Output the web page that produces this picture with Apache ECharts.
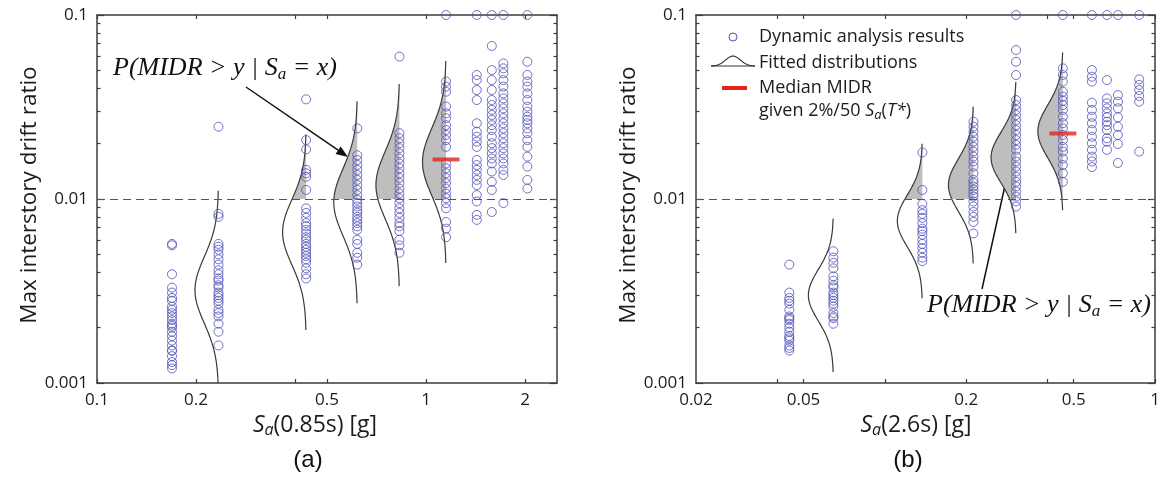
<!DOCTYPE html>
<html><head><meta charset="utf-8">
<script src="https://cdn.jsdelivr.net/npm/echarts@6/dist/echarts.min.js"></script>
<style>html,body{margin:0;padding:0;background:#fff}#c{width:1158px;height:478px}</style>
</head><body><div id="c"></div>
<script>
// ---------- Panel (a): Sa(0.85s) ----------
const saA = [0.169, 0.234, 0.432, 0.618, 0.83, 1.15, 1.426, 1.584, 1.718, 2.032];
const midrA1 = [0.0057, 0.0056, 0.0039, 0.0033, 0.0031, 0.0029, 0.0028, 0.0026, 0.0025, 0.0024, 0.0023, 0.0022, 0.0021, 0.00205, 0.0020, 0.0019, 0.0018, 0.0017, 0.0016, 0.0015, 0.0015, 0.0014, 0.0013, 0.00125, 0.0012];
const midrA2 = [0.0247, 0.0083, 0.0080, 0.0057, 0.0055, 0.0053, 0.0050, 0.0047, 0.0044, 0.0041, 0.0039, 0.0037, 0.0036, 0.0034, 0.0033, 0.0031, 0.0030, 0.0029, 0.0028, 0.0027, 0.0025, 0.0024, 0.0023, 0.0021, 0.0019, 0.0016];
const midrA3 = [0.0348, 0.0209, 0.0186, 0.0144, 0.0138, 0.0132, 0.0112, 0.0089, 0.0084, 0.0079, 0.0074, 0.0071, 0.0068, 0.0065, 0.0062, 0.0060, 0.0057, 0.0055, 0.0053, 0.0051, 0.0049, 0.0047, 0.0045, 0.0042, 0.0039, 0.0037];
const midrA4 = [0.0242, 0.0173, 0.0163, 0.0153, 0.0144, 0.0135, 0.0127, 0.0119, 0.0112, 0.0105, 0.0099, 0.0095, 0.0091, 0.0087, 0.0084, 0.0080, 0.0077, 0.0074, 0.0071, 0.0068, 0.0060, 0.0057, 0.0051, 0.0048, 0.0044];
const midrA5 = [0.0594, 0.0228, 0.0214, 0.0201, 0.0189, 0.0177, 0.0166, 0.0156, 0.0147, 0.0138, 0.0130, 0.0122, 0.0114, 0.0107, 0.0101, 0.0095, 0.0089, 0.0084, 0.0079, 0.0074, 0.0071, 0.0067, 0.0060, 0.0056, 0.0051];
const midrA6 = [0.1, 0.0435, 0.0408, 0.0383, 0.0318, 0.0292, 0.0275, 0.0252, 0.0237, 0.0223, 0.0209, 0.0192, 0.0156, 0.0147, 0.0138, 0.0130, 0.0122, 0.0114, 0.0107, 0.0101, 0.0095, 0.0089, 0.0075, 0.0069, 0.0062];
const midrA7 = [0.1, 0.0472, 0.0443, 0.0391, 0.0345, 0.0258, 0.0232, 0.0218, 0.0205, 0.0192, 0.0163, 0.0153, 0.0144, 0.0135, 0.0127, 0.0119, 0.0105, 0.0097, 0.0082, 0.0077];
const midrA8 = [0.1, 0.0679, 0.0502, 0.0443, 0.0391, 0.0345, 0.0324, 0.0305, 0.0286, 0.0269, 0.0252, 0.0237, 0.0218, 0.0201, 0.0189, 0.0177, 0.0166, 0.0156, 0.0141, 0.0124, 0.0112, 0.0085];
const midrA9 = [0.1, 0.0546, 0.0513, 0.0482, 0.0443, 0.0408, 0.0375, 0.0352, 0.0331, 0.0311, 0.0292, 0.0275, 0.0258, 0.0242, 0.0228, 0.0214, 0.0201, 0.0189, 0.0177, 0.0166, 0.0156, 0.0144, 0.0135, 0.0095];
const midrA10 = [0.1, 0.0557, 0.0472, 0.0435, 0.0408, 0.0375, 0.0345, 0.0318, 0.0298, 0.0280, 0.0269, 0.0258, 0.0242, 0.0228, 0.0209, 0.0192, 0.0170, 0.0150, 0.0127, 0.0114];
const midrA = [midrA1, midrA2, midrA3, midrA4, midrA5, midrA6, midrA7, midrA8, midrA9, midrA10];
// fitted lognormal distributions (median, log10 dispersion)
const fitSaA = [0.234, 0.432, 0.618, 0.83, 1.15];
const fitMedA = [0.0032, 0.0066, 0.0096, 0.0119, 0.0159];
const fitBetaA = [0.18, 0.177, 0.183, 0.183, 0.183];
const medSaA = [1.15];
const medMidrA = [0.0164];
const xTicksA = [0.1, 0.2, 0.4, 0.5, 1, 2];
const xLabelsA = [0.1, 0.2, 0.5, 1, 2];

// ---------- Panel (b): Sa(2.6s) ----------
const saB = [0.0443, 0.0645, 0.1377, 0.2128, 0.306, 0.456, 0.584, 0.664, 0.729, 0.874];
const midrB1 = [0.0044, 0.0031, 0.0029, 0.0028, 0.0027, 0.0025, 0.0023, 0.00225, 0.0022, 0.0021, 0.0020, 0.0019, 0.0018, 0.00175, 0.0017, 0.0016, 0.00155, 0.0015];
const midrB2 = [0.0052, 0.0048, 0.0045, 0.0042, 0.0038, 0.0036, 0.0034, 0.0033, 0.0031, 0.0030, 0.0029, 0.0028, 0.0027, 0.0026, 0.0024, 0.0023, 0.00225, 0.0021];
const midrB3 = [0.0179, 0.0112, 0.0094, 0.0087, 0.0083, 0.0079, 0.0074, 0.0069, 0.0067, 0.0064, 0.0060, 0.0057, 0.0054, 0.0051, 0.0048, 0.0046];
const midrB4 = [0.0263, 0.0247, 0.0232, 0.0218, 0.0205, 0.0192, 0.0181, 0.0170, 0.0160, 0.0150, 0.0138, 0.0127, 0.0122, 0.0117, 0.0112, 0.0107, 0.0103, 0.0097, 0.0091, 0.0085, 0.0080, 0.0075, 0.0065];
const midrB5 = [0.1, 0.0645, 0.0557, 0.0472, 0.0345, 0.0324, 0.0305, 0.0286, 0.0269, 0.0252, 0.0237, 0.0223, 0.0209, 0.0197, 0.0185, 0.0170, 0.0160, 0.0150, 0.0141, 0.0132, 0.0124, 0.0117, 0.0110, 0.0103, 0.0097, 0.0091];
const midrB6 = [0.1, 0.0513, 0.0472, 0.0435, 0.0383, 0.0360, 0.0342, 0.0324, 0.0305, 0.0280, 0.0258, 0.0242, 0.0223, 0.0209, 0.0192, 0.0181, 0.0166, 0.0153, 0.0138, 0.0124];
const midrB7 = [0.1, 0.0502, 0.0462, 0.0435, 0.0334, 0.0305, 0.0280, 0.0258, 0.0237, 0.0218, 0.0201, 0.0185, 0.0170, 0.0160, 0.0149];
const midrB8 = [0.1, 0.0443, 0.0352, 0.0331, 0.0311, 0.0292, 0.0278, 0.0263, 0.0252, 0.0237, 0.0214, 0.0205, 0.0185];
const midrB9 = [0.1, 0.0367, 0.0338, 0.0311, 0.0278, 0.0247, 0.0223, 0.0199, 0.0157];
const midrB10 = [0.1, 0.0447, 0.0417, 0.0391, 0.0363, 0.0338, 0.0181];
const midrB = [midrB1, midrB2, midrB3, midrB4, midrB5, midrB6, midrB7, midrB8, midrB9, midrB10];
const fitSaB = [0.0645, 0.1377, 0.2128, 0.306, 0.456];
const fitMedB = [0.0030, 0.0076, 0.0119, 0.0168, 0.0233];
const fitBetaB = [0.139, 0.14, 0.142, 0.137, 0.143];
const medSaB = [0.456];
const medMidrB = [0.0227];
const xTicksB = [0.04, 0.05, 0.1, 0.2, 0.4, 0.5, 1];
const xLabelsB = [0.02, 0.05, 0.2, 0.5, 1];

// ---------- shared ----------
const yRange = [0.001, 0.1];
const yMajor = [0.001, 0.01, 0.1];
const yMinor = [0.002, 0.003, 0.004, 0.005, 0.006, 0.007, 0.008, 0.009, 0.02, 0.03, 0.04, 0.05, 0.06, 0.07, 0.08, 0.09];
const threshold = 0.01;

const AX = '#3c3c3c', TXT = '#1e1b1c', CIRC = '#5050b8', RED = '#e3241b';
const SANS = '"Open Sans", "Noto Sans", sans-serif';
const SERIF = '"Liberation Serif", "DejaVu Serif", serif';
const fmt = v => String(parseFloat(Number(v).toPrecision(4)));

function xAxes(gi, min, max, ticks, labels, nameRich, padR) {
  const line = {show: true, onZero: false, lineStyle: {color: AX, width: 1.5}};
  return [{
    gridIndex: gi, type: 'log', logBase: 10, min, max, position: 'bottom',
    axisLine: line,
    axisTick: {show: true, inside: true, length: 4, customValues: ticks, lineStyle: {color: AX, width: 1.2}},
    axisLabel: {show: true, customValues: labels, formatter: fmt, margin: 9, fontSize: 17, color: TXT, fontFamily: SANS},
    splitLine: {show: false}, minorTick: {show: false},
    name: nameRich, nameLocation: 'middle', nameGap: 26,
    nameTextStyle: {padding: [0, padR, 0, 0], rich: {
      i: {fontFamily: SANS, fontSize: 23, fontStyle: 'italic', color: TXT, lineHeight: 27},
      s: {fontFamily: SANS, fontSize: 16, fontStyle: 'italic', color: TXT, lineHeight: 12, verticalAlign: 'bottom'},
      n: {fontFamily: SANS, fontSize: 23, color: TXT, lineHeight: 27}}}
  }, {
    gridIndex: gi, type: 'log', logBase: 10, min, max, position: 'top',
    axisLine: line,
    axisTick: {show: true, inside: true, length: 4, customValues: ticks, lineStyle: {color: AX, width: 1.2}},
    axisLabel: {show: false}, splitLine: {show: false}
  }];
}
function yAxes(gi) {
  const base = {gridIndex: gi, type: 'log', logBase: 10, min: yRange[0], max: yRange[1], splitLine: {show: false}};
  const tickStyle = {color: AX, width: 1.2};
  return [
    Object.assign({}, base, {position: 'left',
      axisLine: {show: true, onZero: false, lineStyle: {color: AX, width: 1.5}},
      axisTick: {show: true, inside: true, length: 7, customValues: yMajor, lineStyle: tickStyle},
      axisLabel: {show: true, customValues: yMajor, formatter: fmt, margin: 9, fontSize: 17, color: TXT, fontFamily: SANS},
      name: 'Max interstory drift ratio', nameLocation: 'middle', nameGap: 43, nameRotate: 90,
      nameTextStyle: {fontFamily: SANS, fontSize: 22.5, color: TXT, padding: [0, 0, 0, 8]}}),
    Object.assign({}, base, {position: 'left', axisLine: {show: false},
      axisTick: {show: true, inside: true, length: 3.5, customValues: yMinor, lineStyle: tickStyle}, axisLabel: {show: false}}),
    Object.assign({}, base, {position: 'right',
      axisLine: {show: true, onZero: false, lineStyle: {color: AX, width: 1.5}},
      axisTick: {show: true, inside: true, length: 7, customValues: yMajor, lineStyle: tickStyle}, axisLabel: {show: false}}),
    Object.assign({}, base, {position: 'right', axisLine: {show: false},
      axisTick: {show: true, inside: true, length: 3.5, customValues: yMinor, lineStyle: tickStyle}, axisLabel: {show: false}})
  ];
}

function fitRender(amp) {
  return function (params, api) {
    const sa = api.value(0), med = api.value(1), beta = api.value(2);
    const lm = Math.log10(med), Z = 3, N = 120;
    const lo = Math.max(-Z, (Math.log10(yRange[0]) - lm) / beta);
    const hi = Math.min(Z, (Math.log10(yRange[1]) - lm) / beta);
    const pt = t => { const c = api.coord([sa, Math.pow(10, lm + t * beta)]); return [c[0] - amp * Math.exp(-t * t / 2), c[1]]; };
    const curve = [];
    for (let k = 0; k <= N; k++) curve.push(pt(lo + (hi - lo) * k / N));
    const children = [];
    const t0 = (Math.log10(threshold) - lm) / beta;
    if (t0 < hi) {
      const s = Math.max(t0, lo);
      const poly = [api.coord([sa, Math.pow(10, lm + s * beta)])];
      for (let k = 0; k <= N; k++) poly.push(pt(s + (hi - s) * k / N));
      poly.push(api.coord([sa, Math.pow(10, lm + hi * beta)]));
      children.push({type: 'polygon', shape: {points: poly}, style: {fill: '#bebebe', stroke: null}});
    }
    children.push({type: 'polyline', shape: {points: curve}, style: {stroke: '#3a3a3a', lineWidth: 1.2, fill: null}});
    return {type: 'group', children};
  };
}

function seriesFor(xi, yi, sa, midr, fitSa, fitMed, fitBeta, medSa, medMidr, amp) {
  const pts = [];
  sa.forEach((s, i) => midr[i].forEach(v => pts.push([s, v])));
  return [{
    type: 'custom', xAxisIndex: xi, yAxisIndex: yi, z: 1,
    renderItem: fitRender(amp), encode: {x: 0, y: 1},
    data: fitSa.map((s, i) => [s, fitMed[i], fitBeta[i]])
  }, {
    name: 'Dynamic analysis results', type: 'scatter', xAxisIndex: xi, yAxisIndex: yi, z: 3, clip: false,
    symbol: 'circle', symbolSize: 9,
    itemStyle: {color: 'rgba(0,0,0,0)', borderColor: CIRC, borderWidth: 1},
    data: pts,
    markLine: {silent: true, symbol: ['none', 'none'], label: {show: false},
      lineStyle: {type: [8, 5], color: '#555', width: 1}, data: [{yAxis: threshold}]}
  }, {
    name: 'Median MIDR', type: 'scatter', xAxisIndex: xi, yAxisIndex: yi, z: 4,
    symbol: 'rect', symbolSize: [27, 4], itemStyle: {color: RED},
    data: medSa.map((s, i) => [s, medMidr[i]])
  }];
}

function arrow(x0, y0, x1, y1) {
  const L = 12, W = 4.5, a = Math.atan2(y1 - y0, x1 - x0);
  const bx = x1 - L * Math.cos(a), by = y1 - L * Math.sin(a), nx = -Math.sin(a), ny = Math.cos(a);
  return [
    {type: 'line', shape: {x1: x0, y1: y0, x2: bx, y2: by}, style: {stroke: '#111', lineWidth: 1.5}},
    {type: 'polygon', shape: {points: [[x1, y1], [bx + nx * W, by + ny * W], [bx - nx * W, by - ny * W]]}, style: {fill: '#111'}}
  ];
}
const pRich = {
  i: {fontFamily: SERIF, fontStyle: 'italic', fontSize: 26, lineHeight: 30, fill: '#111'},
  s: {fontFamily: SERIF, fontStyle: 'italic', fontSize: 17, lineHeight: 13, verticalAlign: 'bottom', fill: '#111'}
};
const pText = '{i|P(MIDR > y | S}{s|a}{i| = x)}';
function bell() {
  const p = [];
  for (let k = 0; k <= 40; k++) { const t = -3 + 6 * k / 40; p.push([733 + t * 7.3, 66 - 10 * Math.exp(-t * t / 2)]); }
  return p;
}
const LEGF = '18px ' + SANS;

const chart = echarts.init(document.getElementById('c'), null, {renderer: 'canvas'});
chart.setOption({
  backgroundColor: '#fff', animation: false,
  grid: [
    {left: 97, top: 15, width: 460, height: 368, outerBoundsMode: 'none'},
    {left: 696, top: 15, width: 459, height: 368, outerBoundsMode: 'none'}
  ],
  xAxis: [].concat(
    xAxes(0, 0.1, 2.5, xTicksA, xLabelsA, '{i|S}{s|a}{n|(0.85s) [g]}', 24),
    xAxes(1, 0.02, 1, xTicksB, xLabelsB, '{i|S}{s|a}{n|(2.6s) [g]}', 19)),
  yAxis: [].concat(yAxes(0), yAxes(1)),
  series: [].concat(
    seriesFor(0, 0, saA, midrA, fitSaA, fitMedA, fitBetaA, medSaA, medMidrA, 23.5),
    seriesFor(2, 4, saB, midrB, fitSaB, fitMedB, fitBetaB, medSaB, medMidrB, 25)),
  graphic: [].concat(
    [{type: 'text', x: 113, y: 68, style: {text: pText, rich: pRich, verticalAlign: 'middle', align: 'left'}}],
    arrow(246, 87, 348, 157),
    [{type: 'text', x: 927, y: 305, style: {text: pText, rich: pRich, verticalAlign: 'middle', align: 'left'}}],
    arrow(982, 289, 1008, 172),
    [
      {type: 'circle', shape: {cx: 733, cy: 37, r: 4}, style: {stroke: CIRC, fill: null, lineWidth: 1}},
      {type: 'text', x: 759, y: 37, style: {text: 'Dynamic analysis results', font: LEGF, fill: TXT, verticalAlign: 'middle'}},
      {type: 'polyline', shape: {points: bell()}, style: {stroke: '#333', lineWidth: 1.1, fill: null}},
      {type: 'line', shape: {x1: 711, y1: 66, x2: 755, y2: 66}, style: {stroke: '#333', lineWidth: 1.1}},
      {type: 'text', x: 759, y: 63, style: {text: 'Fitted distributions', font: LEGF, fill: TXT, verticalAlign: 'middle'}},
      {type: 'rect', shape: {x: 722, y: 86, width: 25, height: 4}, style: {fill: RED}},
      {type: 'text', x: 759, y: 88, style: {text: 'Median MIDR', font: LEGF, fill: TXT, verticalAlign: 'middle'}},
      {type: 'text', x: 759, y: 111, style: {
        text: '{n|given 2%/50 }{i|S}{s|a}{n|(}{i|T*}{n|)}', verticalAlign: 'middle',
        rich: {n: {font: LEGF, fill: TXT, lineHeight: 21},
               i: {fontFamily: SANS, fontSize: 18, fontStyle: 'italic', fill: TXT, lineHeight: 21},
               s: {fontFamily: SANS, fontSize: 13, fontStyle: 'italic', fill: TXT, lineHeight: 10, verticalAlign: 'bottom'}}}},
      {type: 'text', x: 308, y: 460, style: {text: '(a)', font: '24px "Liberation Sans", Arial, sans-serif', fill: '#111', align: 'center', verticalAlign: 'middle'}},
      {type: 'text', x: 908, y: 460, style: {text: '(b)', font: '24px "Liberation Sans", Arial, sans-serif', fill: '#111', align: 'center', verticalAlign: 'middle'}}
    ])
});
</script></body></html>
